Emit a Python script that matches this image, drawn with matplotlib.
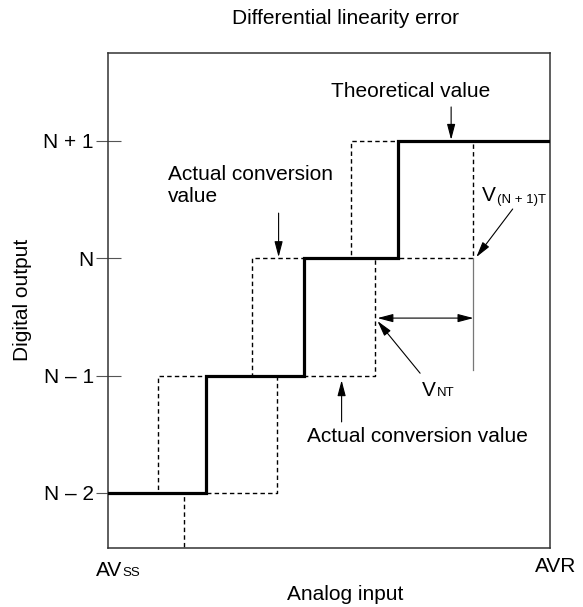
import matplotlib
matplotlib.use("Agg")
import matplotlib.pyplot as plt
from matplotlib.transforms import IdentityTransform

plt.rcParams['font.family'] = ['Liberation Sans', 'DejaVu Sans']
plt.rcParams['lines.scale_dashes'] = False

# ---- data ----
levels = [0, 1, 2, 3]
level_labels = ["N \u2013 2", "N \u2013 1", "N", "N + 1"]
x_max = 4.56                                  # AVR
theoretical_steps = [1.01, 2.02, 2.99]        # theoretical code transitions
actual_early_steps = [0.52, 1.49, 2.51]       # actual conversion (early)
actual_late_steps = [0.78, 1.74, 2.75, 3.77]  # actual conversion (late)
y_low, y_high = -0.47, 3.75

title = "Differential linearity error"
xlabel = "Analog input"
ylabel = "Digital output"

FS = 15
SUB = 9.5

fig = plt.figure(figsize=(5.83, 6.07), dpi=100)
ax = fig.add_axes([108 / 583, 1 - 548 / 607, 442 / 583, 495 / 607])
ax.set_xlim(0, x_max)
ax.set_ylim(y_low, y_high)


def staircase(start_level, steps, x_end):
    xs, ys = [0.0], [start_level]
    lvl = start_level
    for s in steps:
        xs += [s, s]
        ys += [lvl, lvl + 1]
        lvl += 1
    xs.append(x_end)
    ys.append(lvl)
    return xs, ys


dash = (0, (3.2, 2.3))
xe, ye = staircase(levels[0], actual_early_steps, x_max)
ax.plot(xe, ye, color='black', lw=1.0, linestyle=dash, clip_on=True)
xl, yl = staircase(levels[0] - 1, actual_late_steps, x_max)
ax.plot(xl, yl, color='black', lw=1.0, linestyle=dash, clip_on=True)
xt, yt = staircase(levels[0], theoretical_steps, x_max)
ax.plot(xt, yt, color='black', lw=2.3, solid_joinstyle='miter', zorder=5)

# spines / ticks
for sp in ax.spines.values():
    sp.set_color('#333333')
    sp.set_linewidth(1.1)
ax.set_xticks([])
ax.set_yticks(levels)
ax.set_yticklabels(level_labels, fontsize=FS)
ax.tick_params(axis='y', direction='inout', length=18, width=0.8,
               color='#555555', pad=1.2)

arrow = dict(arrowstyle='-|>,head_length=0.95,head_width=0.25',
             mutation_scale=10, color='black', lw=0.8,
             shrinkA=0, shrinkB=0)
darrow = dict(arrowstyle='<|-|>,head_length=0.95,head_width=0.25',
              mutation_scale=10, color='black', lw=0.8,
              shrinkA=0, shrinkB=0)

# Theoretical value
ax.text(3.12, 3.42, "Theoretical value", fontsize=FS, ha='center', va='center')
ax.annotate("", xy=(3.54, 3.01), xytext=(3.54, 3.29), arrowprops=arrow)

# Actual conversion value (upper)
ax.text(0.62, 2.62, "Actual conversion\nvalue", fontsize=FS, ha='left',
        va='center', linespacing=1.2)
ax.annotate("", xy=(1.76, 2.01), xytext=(1.76, 2.385), arrowprops=arrow)

# V(N+1)T
ax.annotate("", xy=(3.80, 2.01), xytext=(4.175, 2.42), arrowprops=arrow)

# V_NT double arrow and helper line
ax.plot([3.77, 3.77], [2.0, 1.05], color='#777777', lw=0.9)
ax.annotate("", xy=(2.78, 1.49), xytext=(3.77, 1.49), arrowprops=darrow)
ax.annotate("", xy=(2.78, 1.465), xytext=(3.22, 1.02), arrowprops=arrow)

# Actual conversion value (lower)
ax.annotate("", xy=(2.41, 0.96), xytext=(2.41, 0.605), arrowprops=arrow)
ax.text(2.05, 0.48, "Actual conversion value", fontsize=FS, ha='left',
        va='center')

renderer = fig.canvas.get_renderer()


def text_sub(x, y, main, sub, transform, dx=0.5, dy=0.0, size=FS, subsize=SUB):
    t = fig.text(x, y, main, transform=transform, ha='left', va='baseline',
                 fontsize=size)
    bb = t.get_window_extent(renderer)
    _, by = transform.transform((x, y))
    fig.text(bb.x1 + dx, by + dy, sub, transform=IdentityTransform(),
             ha='left', va='baseline', fontsize=subsize)


text_sub(3.86, 2.49, "V", "(N + 1)T", ax.transData, dx=0.5, dy=-2)
text_sub(3.24, 0.83, "V", "NT", ax.transData, dx=0.5, dy=0)

# Outside labels
text_sub(96 / 583, 1 - 576 / 607, "AV", "SS", fig.transFigure, dx=0.5, dy=0)
fig.text(556 / 583, 1 - 572 / 607, "AVR", fontsize=FS, ha='center', va='baseline')
fig.text(345 / 583, 1 - 600 / 607, xlabel, fontsize=FS, ha='center', va='baseline')
fig.text(345 / 583, 1 - 18 / 607, title, fontsize=FS, ha='center', va='center')
fig.text(23 / 583, 1 - 300 / 607, ylabel, fontsize=FS, ha='center', va='center',
         rotation=90)

fig.savefig("out.png", dpi=100)
